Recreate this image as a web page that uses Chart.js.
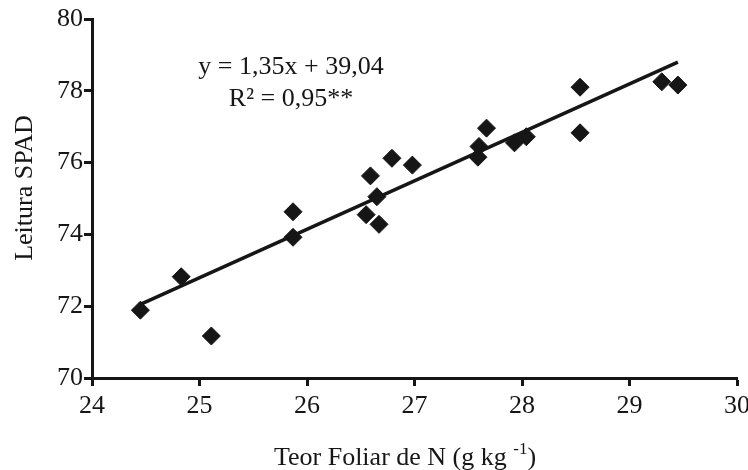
<!DOCTYPE html>
<html>
<head>
<meta charset="utf-8">
<script src="https://cdn.jsdelivr.net/npm/chart.js@4/dist/chart.umd.min.js"></script>
<style>
  html, body { margin: 0; padding: 0; background: #fff; }
  #wrap { width: 748px; height: 470px; }
</style>
</head>
<body>
<div id="wrap"><canvas id="myChart" width="748" height="470"></canvas></div>
<script>
// teor foliar de N (g/kg) vs leitura SPAD
const teorN = [24.45, 24.83, 25.11, 25.87, 25.87, 26.55, 26.67, 26.65, 26.59, 26.79,
               26.98, 27.59, 27.60, 27.67, 27.93, 28.04, 28.54, 28.54, 29.30, 29.45];
const spad  = [71.89, 72.82, 71.17, 74.63, 73.92, 74.55, 74.28, 75.05, 75.63, 76.12,
               75.93, 76.15, 76.45, 76.96, 76.55, 76.72, 78.10, 76.83, 78.25, 78.16];

// regression line ends, y = 1,35x + 39,04
const lineX = [24.45, 29.45];
const lineY = [72.05, 78.80];

const xTicks = [24, 25, 26, 27, 28, 29, 30];
const yTicks = [70, 72, 74, 76, 78, 80];

const eqText = 'y = 1,35x + 39,04';
const r2Text = 'R² = 0,95**';
const yTitle = 'Leitura SPAD';
const xTitle = 'Teor Foliar de N (g kg ';
const xTitleSup = '-1';

const ink = '#161616';
const serif = '"Liberation Serif", "DejaVu Serif", serif';
const fs = 26;

const textPlugin = {
  id: 'textPlugin',
  afterDraw(chart) {
    const ctx = chart.ctx;
    ctx.save();
    ctx.fillStyle = ink;
    ctx.font = fs + 'px ' + serif;
    ctx.textBaseline = 'alphabetic';
    ctx.textAlign = 'center';
    // equation
    ctx.fillText(eqText, 291, 74);
    ctx.fillText(r2Text, 291, 106);

    // y title
    ctx.save();
    ctx.translate(32, 188);
    ctx.rotate(-Math.PI / 2);
    ctx.textAlign = 'center';
    ctx.fillText(yTitle, 0, 0);
    ctx.restore();

    // x title with superscript
    ctx.textAlign = 'left';
    const w1 = ctx.measureText(xTitle).width;
    ctx.font = '17px ' + serif;
    const w2 = ctx.measureText(xTitleSup).width;
    ctx.font = fs + 'px ' + serif;
    const w3 = ctx.measureText(')').width;
    let x0 = 405 - (w1 + w2 + w3) / 2;
    const base = 465;
    ctx.fillText(xTitle, x0, base);
    ctx.font = '17px ' + serif;
    ctx.fillText(xTitleSup, x0 + w1, base - 11);
    ctx.font = fs + 'px ' + serif;
    ctx.fillText(')', x0 + w1 + w2, base);
    ctx.restore();
  }
};

const ctx = document.getElementById('myChart').getContext('2d');
const myChart = new Chart(ctx, {
  type: 'scatter',
  data: {
    datasets: [{
      label: 'SPAD',
      data: teorN.map((x, i) => ({ x: x, y: spad[i] })),
      pointStyle: 'rectRot',
      pointRadius: 9,
      pointHoverRadius: 9,
      backgroundColor: ink,
      borderColor: ink,
      borderWidth: 1,
      order: 2
    }, {
      label: 'linha',
      type: 'line',
      data: lineX.map((x, i) => ({ x: x, y: lineY[i] })),
      borderColor: ink,
      borderWidth: 3.5,
      pointRadius: 0,
      fill: false,
      order: 1
    }]
  },
  options: {
    responsive: false,
    animation: false,
    layout: { padding: { left: 0, top: 19, right: 11, bottom: 0 } },
    plugins: {
      legend: { display: false },
      tooltip: { enabled: false }
    },
    scales: {
      x: {
        type: 'linear',
        min: 24, max: 30,
        afterBuildTicks: (s) => { s.ticks = xTicks.map(v => ({ value: v })); },
        afterFit: (s) => { s.height = 92; s.paddingRight = 0; s.paddingLeft = 0; },
        border: { display: true, width: 3, color: ink },
        grid: { drawOnChartArea: false, drawTicks: true, tickLength: 8, tickWidth: 3, tickColor: ink },
        ticks: { color: ink, padding: 5, font: { family: serif, size: fs } }
      },
      y: {
        type: 'linear',
        min: 70, max: 80,
        afterBuildTicks: (s) => { s.ticks = yTicks.map(v => ({ value: v })); },
        afterFit: (s) => { s.width = 92; s.paddingTop = 0; s.paddingBottom = 0; },
        border: { display: true, width: 3, color: ink },
        grid: { drawOnChartArea: false, drawTicks: true, tickLength: 8, tickWidth: 3, tickColor: ink },
        ticks: { color: ink, padding: 1, font: { family: serif, size: fs } }
      }
    }
  },
  plugins: [textPlugin]
});
</script>
</body>
</html>
